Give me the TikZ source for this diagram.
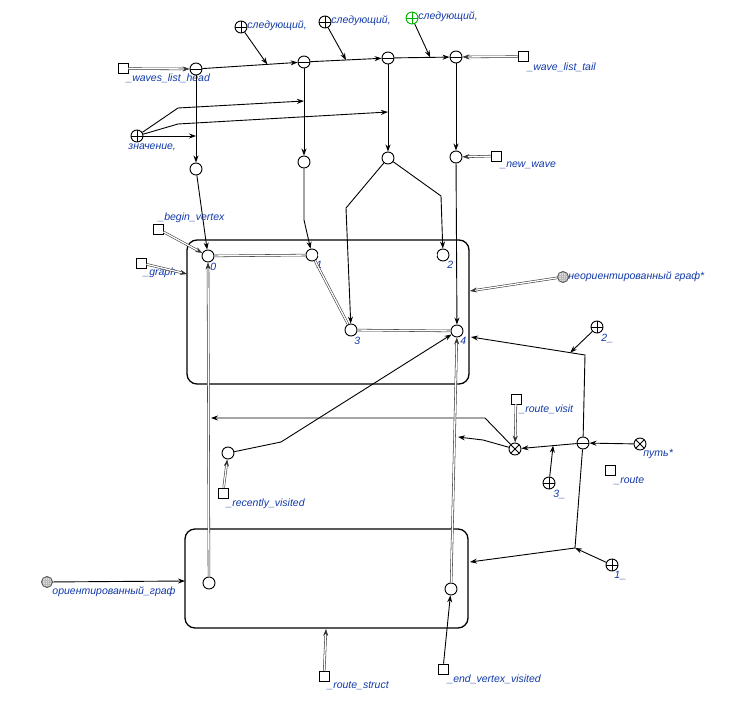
\documentclass[tikz,border=0pt]{standalone}
\usepackage{fontspec}
\setmainfont{Liberation Sans}
\usetikzlibrary{arrows.meta,calc}
\definecolor{lblue}{RGB}{16,56,168}
\tikzset{
    sq/.style = {draw, rectangle, minimum size=10pt, inner sep=0pt, fill=white},
    vtx/.style = {draw, circle, minimum size=12pt, inner sep=0pt, fill=white},
    minuscirc/.style = {vtx, path picture={\draw (path picture bounding box.west) -- (path picture bounding box.east);}},
    pluscirc/.style = {vtx, path picture={\draw (path picture bounding box.west) -- (path picture bounding box.east)
        (path picture bounding box.north) -- (path picture bounding box.south);}},
    xcirc/.style = {vtx, path picture={\draw (path picture bounding box.north west) -- (path picture bounding box.south east)
        (path picture bounding box.north east) -- (path picture bounding box.south west);}},
    gridcirc/.style = {vtx, draw=gray!70!black, minimum size=11pt, fill=gray!25, path picture={\draw[gray!55, line width=0.3pt, step=2.2pt]
        (path picture bounding box.south west) grid (path picture bounding box.north east);}},
    lbl/.style = {text=lblue, font=\itshape\fontsize{10.5}{12}\selectfont, inner sep=0pt, anchor=west},
    dbl/.style = {double=white, draw=gray!40!black, double distance=1.3pt, line width=0.55pt},
    box/.style = {draw, line width=1.3pt, rounded corners=10pt}
}
\begin{document}
\begin{tikzpicture}[x=1pt, y=-1pt, line width=0.9pt, >={Stealth[length=7pt,width=5pt]}]
    \useasboundingbox (0,0) rectangle (734,727);
    % Boxes
    \node[box, minimum width=282pt, minimum height=144pt] (graph) at (328,312) {};
    \node[box, minimum width=283pt, minimum height=99pt] (routebox) at (326.5,578.5) {};
    % Waves list
    \node[sq] (head) at (123,68.6) {};
    \node[lbl] (headl) at (126,78) {\_waves\_list\_head};
    \node[minuscirc] (w1) at (196,69) {};
    \node[minuscirc] (w2) at (304,62) {};
    \node[minuscirc] (w3) at (388,58) {};
    \node[minuscirc] (w4) at (456,57) {};
    \node[sq] (tail) at (523,56.6) {};
    \node[lbl] (taill) at (527,67) {\_wave\_list\_tail};
    \node[pluscirc] (n1) at (241,27) {};
    \node[pluscirc] (n2) at (325,22) {};
    \node[pluscirc, draw=green!70!black] (n3) at (412,18) {};
    \node[lbl] (n1l) at (247,26) {следующий,};
    \node[lbl] (n2l) at (331,21) {следующий,};
    \node[lbl] (n3l) at (418,17) {следующий,};
    \draw[dbl, ->] (head) -- (w1);
    \draw[dbl, ->] (tail) -- (w4);
    \draw[->] (w1) -- (w2);
    \draw[->] (w2) -- (w3);
    \draw[->] (w3) -- (w4);
    \coordinate (h1) at ($(w1)!0.66!(w2)$);
    \coordinate (h2) at ($(w2)!0.5!(w3)$);
    \coordinate (h3) at ($(w3)!0.62!(w4)$);
    \draw[->] (n1) -- (h1);
    \draw[->] (n2) -- (h2);
    \draw[->] (n3) -- (h3);
    % Values
    \node[vtx] (b1) at (196,169) {};
    \node[vtx] (b2) at (304,162) {};
    \node[vtx] (b3) at (388,158) {};
    \node[vtx] (b4) at (456,157) {};
    \node[sq] (newwave) at (496,156) {};
    \node[lbl] (newwavel) at (500,165) {\_new\_wave};
    \draw[dbl, ->] (newwave) -- (b4);
    \draw[->] (w1) -- (b1);
    \draw[->] (w2) -- (b2);
    \draw[->] (w3) -- (b3);
    \draw[->] (w4) -- (b4);
    \node[pluscirc] (val) at (137,136) {};
    \node[lbl] (vall) at (128,147) {значение,};
    \coordinate (vb1) at (178,108);
    \coordinate (vb2) at (178,124);
    \coordinate (t1) at (196,136);
    \coordinate (t2) at (304,101);
    \coordinate (t3) at (388,112);
    \draw[->] (val) -- (t1);
    \draw[->] (val) -- (vb1) -- (t2);
    \draw[->] (val) -- (vb2) -- (t3);
    % Graph
    \node[vtx] (v0) at (208,256) {};
    \node[vtx] (v1) at (312,255) {};
    \node[vtx] (v2) at (443,255) {};
    \node[vtx] (v3) at (351,330) {};
    \node[vtx] (v4) at (457,331) {};
    \node[lbl] (v0l) at (210,267) {0};
    \node[lbl] (v1l) at (316,265) {1};
    \node[lbl] (v2l) at (447,265) {2};
    \node[lbl] (v3l) at (354,341) {3};
    \node[lbl] (v4l) at (460,341) {4};
    \draw[dbl] (v0) -- (v1);
    \draw[dbl] (v1) -- (v2);
    \draw[dbl] (v1) -- (v3);
    \draw[dbl] (v3) -- (v4);
    \coordinate (c2) at (304,220);
    \coordinate (c3a) at (346,208);
    \coordinate (c3b) at (441,196);
    \draw[->] (b1) -- (v0);
    \draw[->] (b2) -- (c2) -- (v1);
    \draw[->] (b3) -- (c3a) -- (v3);
    \draw[->] (b3) -- (c3b) -- (v2);
    \draw[->] (b4) -- (v4);
    \node[sq] (bv) at (158,229) {};
    \node[lbl] (bvl) at (158,218) {\_begin\_vertex};
    \draw[dbl, ->] (bv) -- (v0);
    \node[sq] (gr) at (141,263) {};
    \node[lbl] (grl) at (143,273) {\_graph};
    \coordinate (grin) at (187,274);
    \draw[dbl, ->] (gr) -- (grin);
    \node[gridcirc] (ug) at (563,277) {};
    \node[lbl] (ugl) at (568,277) {неориентированный граф*};
    \coordinate (ugin) at (470,291);
    \draw[dbl, ->] (ug) -- (ugin);
    % Route
    \node[minuscirc] (c) at (583,443) {};
    \node[xcirc] (d) at (515,449) {};
    \node[xcirc] (path) at (640,444) {};
    \node[lbl] (pathl) at (643,454) {путь*};
    \node[sq] (rt) at (610,470) {};
    \node[lbl] (rtl) at (614,481) {\_route};
    \draw[->] (path) -- (c);
    \draw[->] (c) -- (d);
    \coordinate (cb) at (585,355);
    \coordinate (g4) at (471,337);
    \draw[->] (c) -- (cb) -- (g4);
    \coordinate (cc) at (575,548);
    \coordinate (r1) at (470,562);
    \draw[->] (c) -- (cc) -- (r1);
    \node[pluscirc] (p2) at (597,327) {};
    \node[lbl] (p2l) at (601,338) {2\_};
    \coordinate (h4) at ($(cb)!0.13!(g4)$);
    \draw[->] (p2) -- (h4);
    \node[pluscirc] (p1) at (612,565) {};
    \node[lbl] (p1l) at (614,576) {1\_};
    \draw[->] (p1) -- (cc);
    \node[pluscirc] (p3) at (549,483) {};
    \node[lbl] (p3l) at (553,494) {3\_};
    \coordinate (h5) at ($(c)!0.44!(d)$);
    \draw[->] (p3) -- (h5);
    \node[sq] (rv) at (516,399) {};
    \node[lbl] (rvl) at (519,409) {\_route\_visit};
    \draw[dbl, ->] (rv) -- (d);
    \coordinate (db1) at (485,418);
    \coordinate (dt1) at (211,418);
    \coordinate (db2) at (483,440);
    \coordinate (dt2) at (458,437);
    \draw[->] (d) -- (db1) -- (dt1);
    \draw[->] (d) -- (db2) -- (dt2);
    % Recently visited
    \node[vtx] (rec) at (228,453) {};
    \node[sq] (rs) at (223,493) {};
    \node[lbl] (rsl) at (226,504) {\_recently\_visited};
    \draw[dbl, ->] (rs) -- (rec);
    \coordinate (rb) at (281,442);
    \draw[->] (rec) -- (rb) -- (v4);
    % Route struct
    \node[vtx] (e) at (209,583) {};
    \node[vtx] (f) at (451,589) {};
    \draw[dbl, ->] (e) -- (v0);
    \draw[dbl, ->] (f) -- (v4);
    \node[gridcirc] (og) at (47,582) {};
    \node[lbl] (ogl) at (52,592) {ориентированный\_граф};
    \coordinate (ogin) at (185,581);
    \draw[->] (og) -- (ogin);
    \node[sq] (rst) at (324,676) {};
    \node[lbl] (rstl) at (327,686) {\_route\_struct};
    \coordinate (rsin) at (326,629);
    \draw[dbl, ->] (rst) -- (rsin);
    \node[sq] (ev) at (443,669) {};
    \node[lbl] (evl) at (447,679) {\_end\_vertex\_visited};
    \draw[->] (ev) -- (f);
\end{tikzpicture}
\end{document}
